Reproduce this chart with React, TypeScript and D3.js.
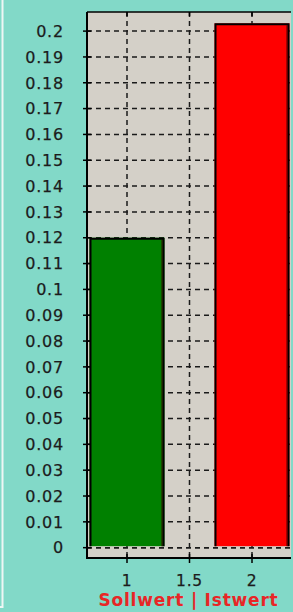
import React from "react";
import * as d3 from "d3";

const categories = [1, 2];
const values = [0.12, 0.203];
const barColors = ["#008000", "#ff0000"];
const yTicks = [0, 0.01, 0.02, 0.03, 0.04, 0.05, 0.06, 0.07, 0.08, 0.09, 0.1, 0.11, 0.12, 0.13, 0.14, 0.15, 0.16, 0.17, 0.18, 0.19, 0.2];
const yTickLabels = ["0", "0.01", "0.02", "0.03", "0.04", "0.05", "0.06", "0.07", "0.08", "0.09", "0.1", "0.11", "0.12", "0.13", "0.14", "0.15", "0.16", "0.17", "0.18", "0.19", "0.2"];
const xTicks = [1, 1.5, 2];
const xTickLabels = ["1", "1.5", "2"];
const xTitle = "Sollwert | Istwert";

const W = 293, H = 612;
const L = 87, R = 291, T = 12, B = 558;

export default function App() {
  const x = d3.scaleLinear().domain([0.68, 2.32]).range([L, 292]);
  const y = d3.scaleLinear().domain([-0.004, 0.2074]).range([B, T]);
  const halfW = 0.3;
  const font = "'DejaVu Sans', Verdana, sans-serif";
  const dash = "5,4";
  return (
    <svg width={W} height={H} style={{ position: "absolute", left: 0, top: 0 }}>
      <rect x={0} y={0} width={W} height={H} fill="#82d9c8" />
      {/* left panel border */}
      <line x1={2.5} y1={0} x2={2.5} y2={606} stroke="#eef6f4" strokeWidth={2} />
      <line x1={0} y1={607} x2={3.5} y2={607} stroke="#eef6f4" strokeWidth={2} />
      {/* plot background */}
      <rect x={L} y={T} width={R - L} height={B - T} fill="#d4d0c8" />
      {/* grid */}
      {yTicks.map((v, i) => (
        <line key={"gy" + i} x1={L} x2={R} y1={y(v)} y2={y(v)} stroke="#1a1a1a" strokeWidth={1.5} strokeDasharray={dash} />
      ))}
      {xTicks.map((v, i) => (
        <line key={"gx" + i} x1={x(v)} x2={x(v)} y1={T} y2={B} stroke="#1a1a1a" strokeWidth={1.5} strokeDasharray={dash} />
      ))}
      {/* bars */}
      {categories.map((c, i) => {
        const x0 = x(c - halfW), x1 = x(c + halfW);
        const yt = y(values[i]), yb = y(0) - 1.5;
        return (
          <g key={"b" + i}>
            <rect x={x0} y={yt} width={x1 - x0} height={yb - yt} fill={barColors[i]} />
            <path d={`M${x0 + 1},${yb} L${x0 + 1},${yt + 1} L${x1 - 1},${yt + 1} L${x1 - 1},${yb}`} fill="none" stroke="#000" strokeWidth={2} />
            <line x1={x1 - 2.5} x2={x1 - 2.5} y1={yt + 2} y2={yb} stroke="#3a0000" strokeWidth={1.5} opacity={0.6} />
          </g>
        );
      })}
      {/* zero grid line over bar bottoms */}
      <line x1={L} x2={R} y1={y(0)} y2={y(0)} stroke="#1a1a1a" strokeWidth={1.5} strokeDasharray={dash} />
      {/* axes */}
      <line x1={L} x2={L} y1={T} y2={B + 1} stroke="#000" strokeWidth={2} />
      <line x1={L} x2={R} y1={T} y2={T} stroke="#000" strokeWidth={1.5} />
      <line x1={L - 1} x2={R} y1={B} y2={B} stroke="#000" strokeWidth={2} />
      {yTicks.map((v, i) => (
        <line key={"ty" + i} x1={L - 4} x2={L + 4} y1={y(v)} y2={y(v)} stroke="#000" strokeWidth={1.5} />
      ))}
      {xTicks.map((v, i) => (
        <g key={"tx" + i}>
          <line x1={x(v)} x2={x(v)} y1={B - 4} y2={B + 5} stroke="#000" strokeWidth={1.5} />
          <line x1={x(v)} x2={x(v)} y1={T} y2={T + 4} stroke="#000" strokeWidth={1.5} />
        </g>
      ))}
      {/* labels */}
      {yTicks.map((v, i) => (
        <text key={"ly" + i} x={64} y={y(v)} dy="0.36em" textAnchor="end" fontFamily={font} fontSize={16} letterSpacing={0.8} fill="#1c1c1c" stroke="#1c1c1c" strokeWidth={0.25}>
          {yTickLabels[i]}
        </text>
      ))}
      {xTicks.map((v, i) => (
        <text key={"lx" + i} x={x(v)} y={586} textAnchor="middle" fontFamily={font} fontSize={15.5} letterSpacing={0.8} fill="#1c1c1c" stroke="#1c1c1c" strokeWidth={0.25}>
          {xTickLabels[i]}
        </text>
      ))}
      <text x={188.5} y={606} textAnchor="middle" fontFamily={font} fontSize={17} fontWeight="bold" letterSpacing={0.8} fill="#e82626">
        {xTitle}
      </text>
    </svg>
  );
}
